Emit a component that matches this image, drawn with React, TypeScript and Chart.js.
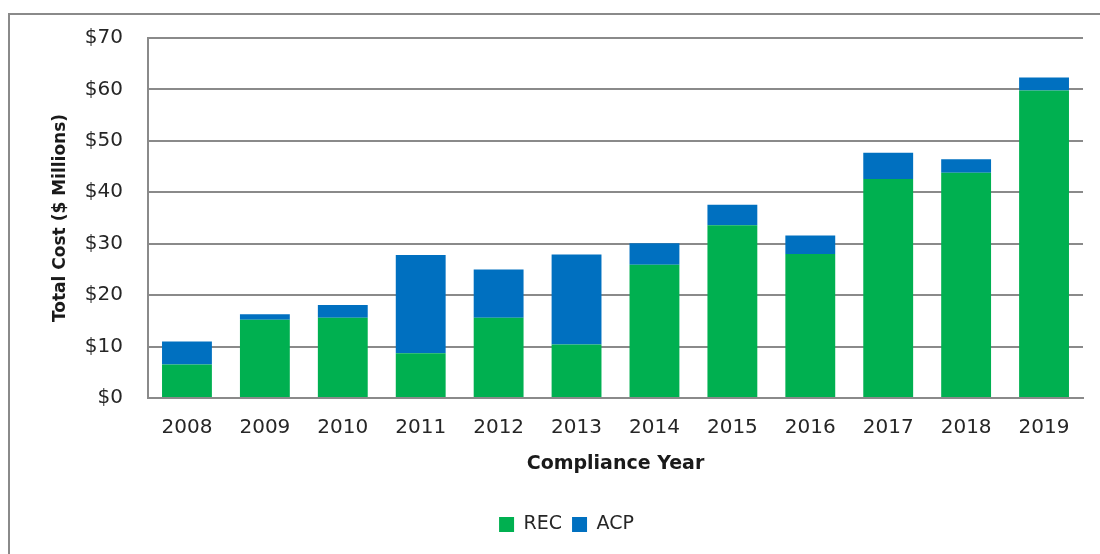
import React, { useEffect, useRef } from 'react';
import { Chart, registerables } from 'chart.js';

Chart.register(...registerables);

const years = ['2008', '2009', '2010', '2011', '2012', '2013', '2014', '2015', '2016', '2017', '2018', '2019'];
const recValues = [6.5, 15.2, 15.6, 8.7, 15.6, 10.4, 25.9, 33.6, 28.0, 42.6, 43.8, 59.8];
const acpValues = [4.5, 1.1, 2.5, 19.1, 9.4, 17.5, 4.2, 4.0, 3.6, 5.1, 2.6, 2.5];
const seriesNames = ['REC', 'ACP'];
const seriesColors = ['#00B050', '#0070C0'];
const yMin = 0;
const yMax = 70;
const yStep = 10;
const xTitle = 'Compliance Year';
const yTitle = 'Total Cost ($ Millions)';

const GRID = '#8a8a8a';
const TEXT = '#262626';

export default function App() {
  const ref = useRef<HTMLCanvasElement | null>(null);

  useEffect(() => {
    if (!ref.current) return;
    Chart.defaults.font.family = "'DejaVu Sans', Verdana, sans-serif";
    const chart = new Chart(ref.current, {
      type: 'bar',
      data: {
        labels: years,
        datasets: [
          {
            label: seriesNames[0],
            data: recValues,
            backgroundColor: seriesColors[0],
            borderWidth: 0,
            barPercentage: 0.64,
            categoryPercentage: 1,
          },
          {
            label: seriesNames[1],
            data: acpValues,
            backgroundColor: seriesColors[1],
            borderWidth: 0,
            barPercentage: 0.64,
            categoryPercentage: 1,
          },
        ],
      },
      options: {
        animation: false,
        responsive: false,
        maintainAspectRatio: false,
        layout: { padding: { left: 40, right: 17, top: 23, bottom: 10 } },
        plugins: {
          legend: {
            position: 'bottom',
            labels: {
              boxWidth: 15,
              boxHeight: 15,
              padding: 10,
              color: TEXT,
              font: { size: 19 },
            },
          },
          tooltip: { enabled: false },
        },
        scales: {
          x: {
            stacked: true,
            grid: { display: false, drawTicks: false },
            border: { display: true, color: GRID, width: 2 },
            ticks: { padding: 18, color: TEXT, font: { size: 20 }, maxRotation: 0, autoSkip: false },
            title: {
              display: true,
              text: xTitle,
              color: '#1a1a1a',
              font: { size: 19, weight: 'bold' },
              padding: { top: 0, bottom: 30 },
            },
            afterFit: (s: any) => {
              s.height = 107;
            },
          },
          y: {
            stacked: true,
            min: yMin,
            max: yMax,
            grid: { color: GRID, lineWidth: 2, drawTicks: false },
            border: { display: true, color: GRID, width: 2 },
            ticks: {
              stepSize: yStep,
              padding: 25,
              color: TEXT,
              font: { size: 20 },
              callback: (v: any) => '$' + v,
            },
            title: {
              display: true,
              text: yTitle,
              color: '#1a1a1a',
              font: { size: 17, weight: 'bold' },
              padding: { top: 0, bottom: 0 },
            },
            afterFit: (s: any) => {
              s.width = 98;
              s.paddingTop = 0;
              s.paddingBottom = 0;
            },
          },
        },
      },
    });
    return () => chart.destroy();
  }, []);

  return (
    <div
      style={{
        position: 'fixed',
        left: 8,
        top: 13,
        width: 1100,
        height: 560,
        borderLeft: `2px solid ${GRID}`,
        borderTop: `2px solid ${GRID}`,
        background: '#fff',
      }}
    >
      <canvas ref={ref} width={1090} height={539} style={{ display: 'block', width: 1090, height: 539 }} />
    </div>
  );
}
